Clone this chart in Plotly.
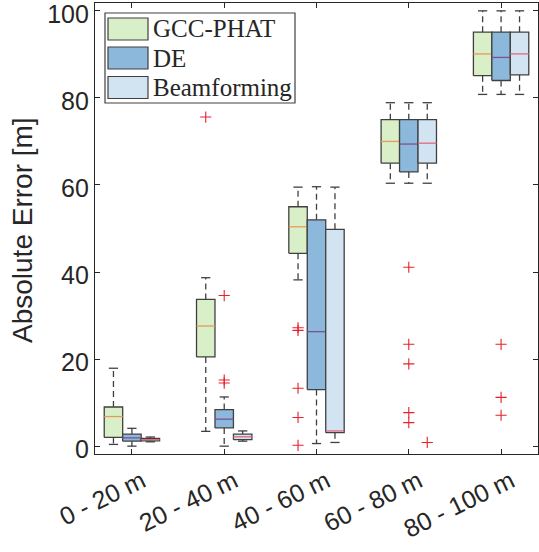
import plotly.graph_objects as go

categories = ["0 - 20 m", "20 - 40 m", "40 - 60 m", "60 - 80 m", "80 - 100 m"]
methods = ["GCC-PHAT", "DE", "Beamforming"]

gcc_lo = [0.4, 3.4, 38.2, 60.4, 80.8]
gcc_q1 = [2.0, 20.5, 44.3, 65.0, 85.1]
gcc_med = [6.8, 27.6, 50.4, 70.0, 90.1]
gcc_q3 = [9.0, 33.7, 55.0, 75.0, 95.1]
gcc_hi = [17.9, 38.7, 59.5, 78.9, 100.0]
gcc_out = [[], [75.6], [26.6, 27.2, 13.3, 6.6, 0.2], [], []]

de_lo = [0.0, 0.0, 0.6, 60.4, 80.8]
de_q1 = [1.15, 4.2, 13.0, 63.0, 84.0]
de_med = [1.9, 6.2, 26.3, 69.4, 89.3]
de_q3 = [2.75, 8.4, 52.0, 75.0, 95.1]
de_hi = [4.1, 11.3, 59.6, 78.9, 100.0]
de_out = [[], [34.6, 15.2, 14.5], [], [41.1, 23.4, 18.9, 7.7, 5.4], [23.4, 11.2, 7.1]]

bf_lo = [1.0, 1.15, 0.85, 60.4, 80.8]
bf_q1 = [1.2, 1.5, 3.1, 65.0, 85.3]
bf_med = [1.5, 2.15, 3.5, 69.6, 90.1]
bf_q3 = [1.8, 2.75, 49.8, 75.0, 95.1]
bf_hi = [2.1, 3.5, 59.5, 78.9, 100.0]
bf_out = [[], [], [], [0.85], []]

fills = ["#d9efc7", "#8cb9db", "#d2e4f1"]
medcols = ["#e59a5e", "#7e4f9a", "#e0687f"]
edge = "#404040"
txt = "#262626"

series = [
    (gcc_lo, gcc_q1, gcc_med, gcc_q3, gcc_hi, gcc_out),
    (de_lo, de_q1, de_med, de_q3, de_hi, de_out),
    (bf_lo, bf_q1, bf_med, bf_q3, bf_hi, bf_out),
]

W = 0.2
offsets = [-0.2, 0.0, 0.2]

fig = go.Figure()

for m, (lo, q1, med, q3, hi, outs) in enumerate(series):
    for i in range(len(categories)):
        c = i + 1 + offsets[m]
        x0, x1 = c - W / 2, c + W / 2
        fig.add_trace(go.Scatter(
            x=[c, c, None, c, c], y=[q3[i], hi[i], None, q1[i], lo[i]],
            mode="lines", line=dict(color=edge, width=1.3, dash="6px,4px"),
            showlegend=False, hoverinfo="skip"))
        fig.add_trace(go.Scatter(
            x=[c - W / 4, c + W / 4, None, c - W / 4, c + W / 4],
            y=[hi[i], hi[i], None, lo[i], lo[i]],
            mode="lines", line=dict(color=edge, width=1.3),
            showlegend=False, hoverinfo="skip"))
        fig.add_trace(go.Scatter(
            x=[x0, x1, x1, x0, x0], y=[q1[i], q1[i], q3[i], q3[i], q1[i]],
            mode="lines", fill="toself", fillcolor=fills[m],
            line=dict(color=edge, width=1.3),
            showlegend=False, hoverinfo="skip"))
        fig.add_trace(go.Scatter(
            x=[x0, x1], y=[med[i], med[i]], mode="lines",
            line=dict(color=medcols[m], width=1.3),
            showlegend=False, hoverinfo="skip"))
        if outs[i]:
            fig.add_trace(go.Scatter(
                x=[c] * len(outs[i]), y=outs[i], mode="markers",
                marker=dict(symbol="cross-thin", size=8,
                            line=dict(color="#e8202a", width=1.1)),
                showlegend=False, hoverinfo="skip"))

PX0, PX1, PY0, PY1 = 95, 538, 3, 454
def px(x):
    return (x - PX0) / (PX1 - PX0)
def py(y):
    return (PY1 - y) / (PY1 - PY0)

shapes = [dict(type="rect", xref="paper", yref="paper",
               x0=px(105), x1=px(295), y0=py(103), y1=py(13),
               line=dict(color=edge, width=1.2), fillcolor="white", layer="above")]
annotations = []
sw_tops = [18, 47, 76.5]
for m, name in enumerate(methods):
    t = sw_tops[m]
    shapes.append(dict(type="rect", xref="paper", yref="paper",
                       x0=px(108), x1=px(148), y0=py(t + 22), y1=py(t),
                       line=dict(color=edge, width=1.2), fillcolor=fills[m], layer="above"))
    annotations.append(dict(xref="paper", yref="paper", x=px(151), y=py(t + 11),
                            text=name, showarrow=False, xanchor="left", yanchor="middle",
                            font=dict(family="Liberation Serif", size=25, color=txt)))

fig.update_layout(
    width=539, height=552,
    margin=dict(l=95, r=1, t=3, b=98),
    paper_bgcolor="white", plot_bgcolor="white",
    showlegend=False,
    shapes=shapes, annotations=annotations,
    font=dict(family="Liberation Sans", color=txt),
    xaxis=dict(range=[0.6, 5.4], tickvals=[1, 2, 3, 4, 5], ticktext=categories,
               tickangle=-26, ticks="inside", ticklen=5, tickcolor=txt,
               showline=True, linecolor=txt, linewidth=1.2, mirror="ticks",
               showgrid=False, zeroline=False, automargin=False,
               ticklabelstandoff=2, ticklabelshift=10, ticklabeloverflow="allow",
               tickfont=dict(size=25, color=txt, family="Liberation Sans")),
    yaxis=dict(range=[-1.8, 101.8], tickvals=[0, 20, 40, 60, 80, 100],
               ticks="inside", ticklen=5, tickcolor=txt,
               showline=True, linecolor=txt, linewidth=1.2, mirror="ticks",
               showgrid=False, zeroline=False, automargin=False,
               ticklabeloverflow="allow", ticklabelshift=3,
               tickfont=dict(size=25, color=txt, family="Liberation Sans")),
)
fig.add_annotation(xref="paper", yref="paper", x=px(22), y=py(230),
                   text="Absolute Error [m]", textangle=-90, showarrow=False,
                   xanchor="center", yanchor="middle",
                   font=dict(size=28, color=txt, family="Liberation Sans"))

fig.write_html("out.html")
